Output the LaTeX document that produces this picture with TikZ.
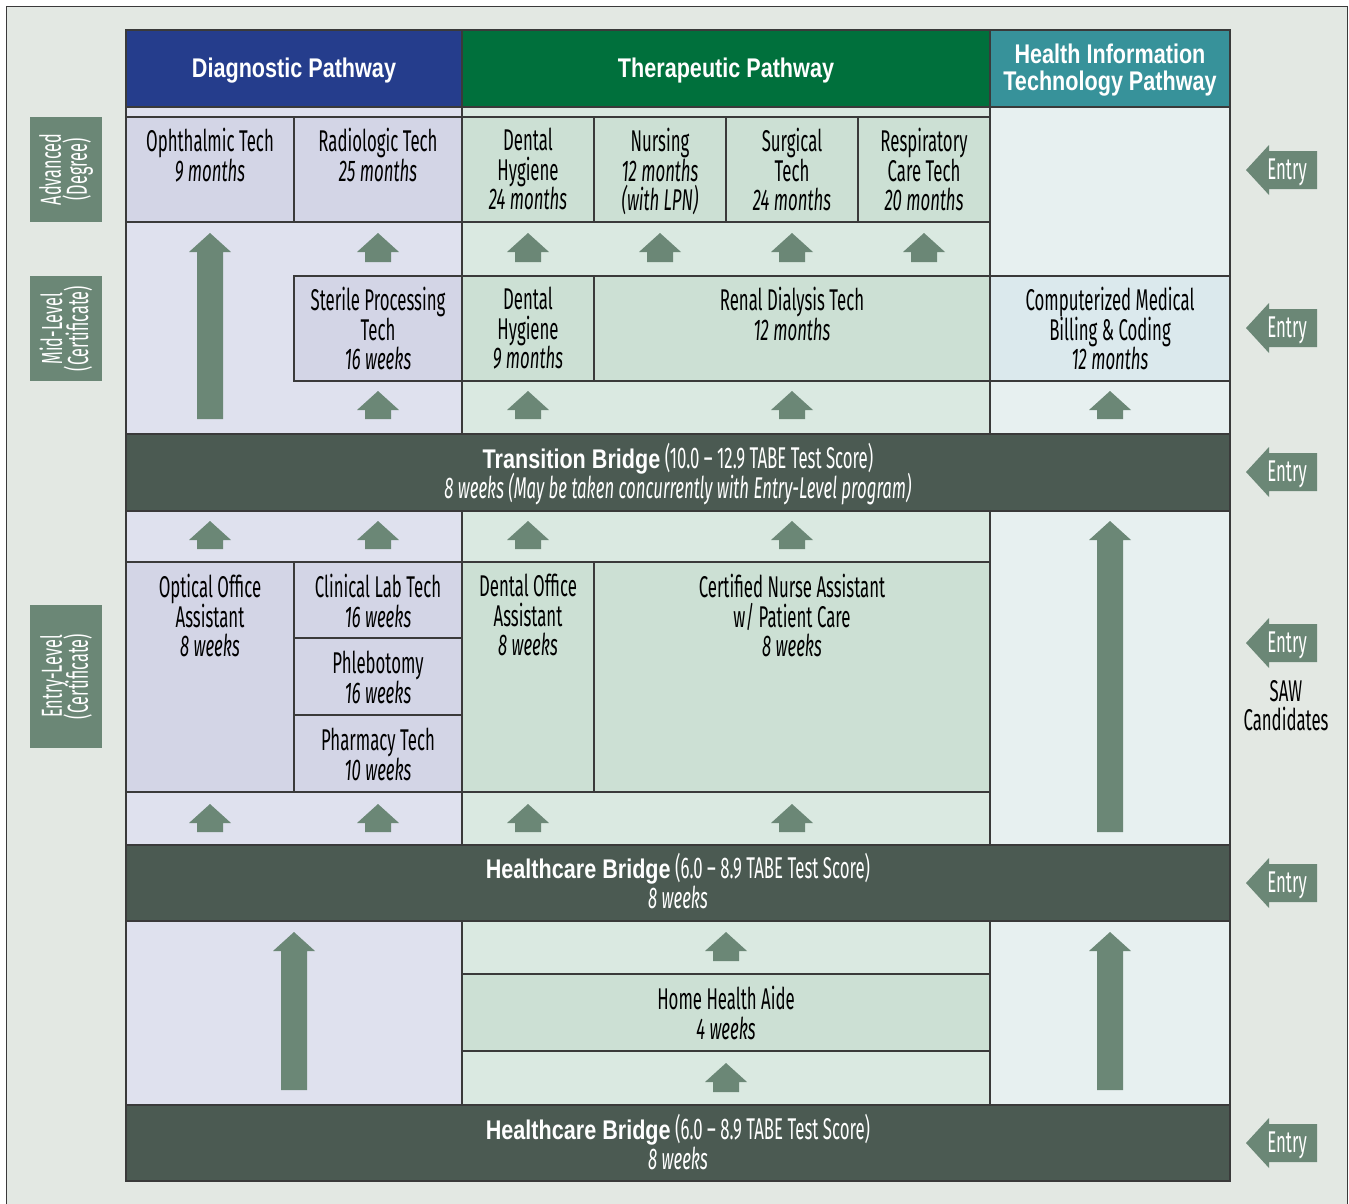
\documentclass[tikz,border=0pt]{standalone}
\usepackage{fontspec}
\setmainfont{Fira Sans}[FakeStretch=0.56]
\newfontfamily\hfont{Liberation Sans}[FakeStretch=0.8]
\definecolor{framebg}{HTML}{E3E8E3}
\definecolor{diagbg}{HTML}{DFE1EE}
\definecolor{diagbox}{HTML}{D3D5E6}
\definecolor{therbg}{HTML}{DAE9E1}
\definecolor{therbox}{HTML}{CCE0D4}
\definecolor{hitbg}{HTML}{E7F0F0}
\definecolor{hitbox}{HTML}{DBE9ED}
\definecolor{hblue}{HTML}{253D8C}
\definecolor{hgreen}{HTML}{00703C}
\definecolor{hteal}{HTML}{37929A}
\definecolor{bridgec}{HTML}{4B5A52}
\definecolor{arrowc}{HTML}{6B8776}
\definecolor{linec}{HTML}{3A3A3A}
\newcommand\ft{\rule{0pt}{21pt}}
\newcommand\tightlines{\lineskiplimit=-40pt\relax\lineskip=0pt\relax}
\newcommand\bbold[1]{{\hfont\bfseries\fontsize{27}{29.5}\selectfont #1}}
\newcommand\upblock[3]{\fill[arrowc] (#1-21,#2+19) -- (#1,#2) -- (#1+21,#2+19) -- (#1+13,#2+19) -- (#1+13,#3) -- (#1-13,#3) -- (#1-13,#2+19) -- cycle;}
\newcommand\entryarrow[2]{\fill[arrowc] (1246,#1) -- (1269,#1-25) -- (1269,#1-19) -- (1317,#1-19) -- (1317,#1+19) -- (1269,#1+19) -- (1269,#1+25) -- cycle;
  \node[entrytxt] (#2) at (1287,#1-12) {\ft Entry};}
\begin{document}
\begin{tikzpicture}[x=1pt,y=-1pt,
  box/.style={draw=linec, line width=1.3pt},
  bt/.style={anchor=north, inner sep=0pt, align=center, text=black, font=\fontsize{30}{29.5}\selectfont\tightlines},
  ht/.style={anchor=north, inner sep=0pt, align=center, text=white, font=\hfont\bfseries\fontsize{27}{27}\selectfont\tightlines},
  brt/.style={anchor=north, inner sep=0pt, align=center, text=white, font=\fontsize{30}{29.5}\selectfont\tightlines},
  entrytxt/.style={anchor=north, inner sep=0pt, text=white, font=\fontsize{30}{29.5}\selectfont},
  lvl/.style={fill=arrowc, inner sep=0pt, minimum width=72pt},
  lvlt/.style={rotate=90, inner sep=0pt, align=center, text=white, font=\fontsize{29}{26}\selectfont\tightlines}]
\useasboundingbox (0,0) rectangle (1349,1203);
\begin{scope}
\clip (0,0) rectangle (1349,1203);
\filldraw[fill=framebg, draw=linec, line width=1.2pt] (6.5,6.5) rectangle (1347.5,1230);
\end{scope}
% column backgrounds
\fill[diagbg] (126,107) rectangle (462,1181);
\fill[therbg] (462,107) rectangle (990,1181);
\fill[hitbg] (990,107) rectangle (1230,1181);
% diagnostic boxes
\filldraw[box, fill=diagbox] (126,117) rectangle (294,222);
\filldraw[box, fill=diagbox] (294,117) rectangle (462,222);
\filldraw[box, fill=diagbox] (294,276) rectangle (462,381);
\filldraw[box, fill=diagbox] (126,562) rectangle (294,792);
\filldraw[box, fill=diagbox] (294,562) rectangle (462,638);
\filldraw[box, fill=diagbox] (294,638) rectangle (462,715);
\filldraw[box, fill=diagbox] (294,715) rectangle (462,792);
% therapeutic boxes
\filldraw[box, fill=therbox] (462,117) rectangle (594,222);
\filldraw[box, fill=therbox] (594,117) rectangle (726,222);
\filldraw[box, fill=therbox] (726,117) rectangle (858,222);
\filldraw[box, fill=therbox] (858,117) rectangle (990,222);
\filldraw[box, fill=therbox] (462,276) rectangle (594,381);
\filldraw[box, fill=therbox] (594,276) rectangle (990,381);
\filldraw[box, fill=therbox] (462,562) rectangle (594,792);
\filldraw[box, fill=therbox] (594,562) rectangle (990,792);
\filldraw[box, fill=therbox] (462,974) rectangle (990,1051);
% HIT box
\filldraw[box, fill=hitbox] (990,276) rectangle (1230,381);
% column separators
\draw[box] (462,107) -- (462,1181);
\draw[box] (990,107) -- (990,1181);
% headers
\filldraw[box, fill=hblue] (126,30) rectangle (462,107);
\filldraw[box, fill=hgreen] (462,30) rectangle (990,107);
\filldraw[box, fill=hteal] (990,30) rectangle (1230,107);
% bridges
\filldraw[box, fill=bridgec] (126,434) rectangle (1230,511);
\filldraw[box, fill=bridgec] (126,845) rectangle (1230,921);
\filldraw[box, fill=bridgec] (126,1105) rectangle (1230,1181);
\draw[box] (126,30) rectangle (1230,1181);
% up arrows
\upblock{210}{233}{419}
\foreach \xx in {378,528,660,792,924} {\upblock{\xx}{233}{262}}
\foreach \xx in {378,528,792,1110} {\upblock{\xx}{391}{419}}
\foreach \xx in {210,378,528,792} {\upblock{\xx}{521}{549}}
\upblock{1110}{521}{832}
\foreach \xx in {210,378,528,792} {\upblock{\xx}{804}{832}}
\upblock{726}{932}{961}
\upblock{726}{1063}{1092}
\upblock{294}{932}{1090}
\upblock{1110}{932}{1090}
% level labels
\node[lvl, minimum height=105pt] (advbox) at (66,169.5) {};
\node[lvlt] (advt) at (66,169.5) {Advanced\\(Degree)};
\node[lvl, minimum height=105pt] (midbox) at (66,328.5) {};
\node[lvlt] (midt) at (66,328.5) {Mid-Level\\(Certificate)};
\node[lvl, minimum height=143pt] (entbox) at (66,676.5) {};
\node[lvlt] (entt) at (66,676.5) {Entry-Level\\(Certificate)};
% entry arrows
\entryarrow{170}{e1}
\entryarrow{328}{e2}
\entryarrow{472}{e3}
\entryarrow{643}{e4}
\entryarrow{883}{e5}
\entryarrow{1143}{e6}
\node[bt] (saw) at (1286,680) {\ft SAW\\Candidates};
% headers text
\node[ht] (hdiag) at (294,56) {\ft Diagnostic Pathway};
\node[ht] (hther) at (726,56) {\ft Therapeutic Pathway};
\node[ht] (hhit) at (1110,42) {\ft Health Information\\Technology Pathway};
% advanced
\node[bt] (oph) at (210,128) {\ft Ophthalmic Tech\\\textit{9 months}};
\node[bt] (rad) at (378,128) {\ft Radiologic Tech\\\textit{25 months}};
\node[bt] (dhy) at (528,128) {\ft Dental\\Hygiene\\\textit{24 months}};
\node[bt] (nur) at (660,128) {\ft Nursing\\\textit{12 months}\\\textit{(with LPN)}};
\node[bt] (sur) at (792,128) {\ft Surgical\\Tech\\\textit{24 months}};
\node[bt] (res) at (924,128) {\ft Respiratory\\Care Tech\\\textit{20 months}};
% mid
\node[bt] (ster) at (378,287) {\ft Sterile Processing\\Tech\\\textit{16 weeks}};
\node[bt] (dhy2) at (528,287) {\ft Dental\\Hygiene\\\textit{9 months}};
\node[bt] (renal) at (792,287) {\ft Renal Dialysis Tech\\\textit{12 months}};
\node[bt] (cmbc) at (1110,287) {\ft Computerized Medical\\Billing \& Coding\\\textit{12 months}};
% transition bridge
\node[brt] (tb) at (678,443) {\ft\bbold{Transition Bridge} (10.0 -- 12.9 TABE Test Score)\\\textit{8 weeks (May be taken concurrently with Entry-Level program)}};
% entry-level
\node[bt] (opt) at (210,574) {\ft Optical Office\\Assistant\\\textit{8 weeks}};
\node[bt] (clin) at (378,574) {\ft Clinical Lab Tech\\\textit{16 weeks}};
\node[bt] (phle) at (378,651) {\ft Phlebotomy\\\textit{16 weeks}};
\node[bt] (phar) at (378,728) {\ft Pharmacy Tech\\\textit{10 weeks}};
\node[bt] (doa) at (528,574) {\ft Dental Office\\Assistant\\\textit{8 weeks}};
\node[bt] (cna) at (792,574) {\ft Certified Nurse Assistant\\w/ Patient Care\\\textit{8 weeks}};
% healthcare bridges
\node[brt] (hb1) at (678,853) {\ft\bbold{Healthcare Bridge} (6.0 -- 8.9 TABE Test Score)\\\textit{8 weeks}};
\node[bt] (hha) at (726,986) {\ft Home Health Aide\\\textit{4 weeks}};
\node[brt] (hb2) at (678,1114) {\ft\bbold{Healthcare Bridge} (6.0 -- 8.9 TABE Test Score)\\\textit{8 weeks}};
\end{tikzpicture}
\end{document}
